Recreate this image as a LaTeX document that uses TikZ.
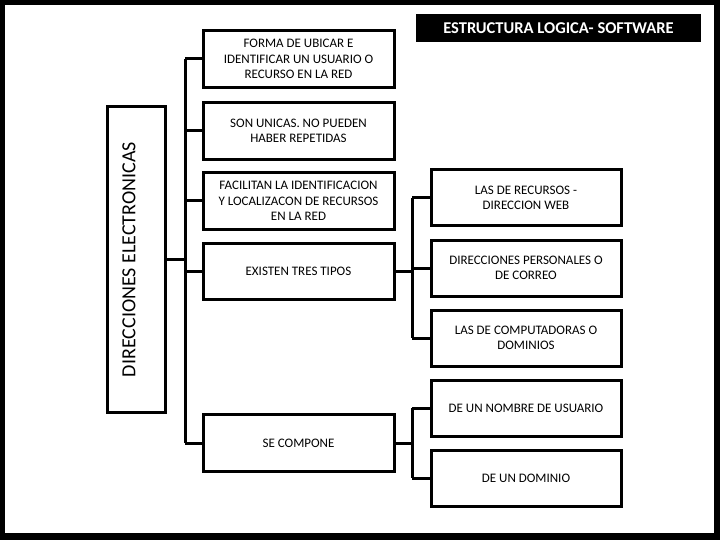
\documentclass[tikz,border=0pt]{standalone}
\usepackage{fontspec}
\setmainfont{Carlito}
\begin{document}
\begin{tikzpicture}[x=1pt,y=-1pt,
 box/.style={draw=black,line width=3pt,fill=white,align=center,font=\fontsize{13}{15.5}\selectfont,inner sep=0pt},
 ln/.style={line width=3pt}]
\fill[black] (0,0) rectangle (720,540);
\fill[white] (5,5) rectangle (714,533);
\useasboundingbox (0,0) rectangle (720,540);
\node[fill=black,text=white,font=\bfseries\fontsize{16.5}{18}\selectfont,minimum width=285pt,minimum height=28pt,inner sep=0pt] (title) at (558.5,28) {ESTRUCTURA LOGICA- SOFTWARE};
\node[box,minimum width=305pt,minimum height=58pt,rotate=90,font=\fontsize{20}{22}\selectfont,text depth=14pt] (root) at (136,259.5) {DIRECCIONES ELECTRONICAS};
\node[box,minimum width=191pt,minimum height=57pt] (b1) at (298.5,59) {FORMA DE UBICAR E\\IDENTIFICAR UN USUARIO O\\RECURSO EN LA RED};
\node[box,minimum width=191pt,minimum height=57pt] (b2) at (298.5,131) {SON UNICAS. NO PUEDEN\\HABER REPETIDAS};
\node[box,minimum width=191pt,minimum height=57pt] (b3) at (298.5,201) {FACILITAN LA IDENTIFICACION\\Y LOCALIZACON DE RECURSOS\\EN LA RED};
\node[box,minimum width=191pt,minimum height=56pt] (b4) at (298.5,271) {EXISTEN TRES TIPOS};
\node[box,minimum width=191pt,minimum height=57pt] (b5) at (298.5,443) {SE COMPONE};
\node[box,minimum width=190pt,minimum height=56pt] (r1) at (526,198) {LAS DE RECURSOS -\\DIRECCION WEB};
\node[box,minimum width=190pt,minimum height=56pt] (r2) at (526,268) {DIRECCIONES PERSONALES O\\DE CORREO};
\node[box,minimum width=190pt,minimum height=56pt] (r3) at (526,338) {LAS DE COMPUTADORAS O\\DOMINIOS};
\node[box,minimum width=190pt,minimum height=56pt] (r4) at (526,408) {DE UN NOMBRE DE USUARIO};
\node[box,minimum width=190pt,minimum height=56pt] (r5) at (526,478) {DE UN DOMINIO};
\coordinate (bx) at (185,0);
\coordinate (cx) at (412,0);
\draw[ln] (root.south) -- (bx |- root.south);
\draw[ln] (bx |- b1.west) -- (bx |- b5.west);
\foreach \n in {b1,b2,b3,b4,b5} \draw[ln] (bx |- \n.west) -- (\n.west);
\draw[ln] (b4.east) -- (cx |- b4.east);
\draw[ln] (cx |- r1.west) -- (cx |- r3.west);
\foreach \n in {r1,r2,r3} \draw[ln] (cx |- \n.west) -- (\n.west);
\draw[ln] (b5.east) -- (cx |- b5.east);
\draw[ln] (cx |- r4.west) -- (cx |- r5.west);
\foreach \n in {r4,r5} \draw[ln] (cx |- \n.west) -- (\n.west);
\end{tikzpicture}
\end{document}
